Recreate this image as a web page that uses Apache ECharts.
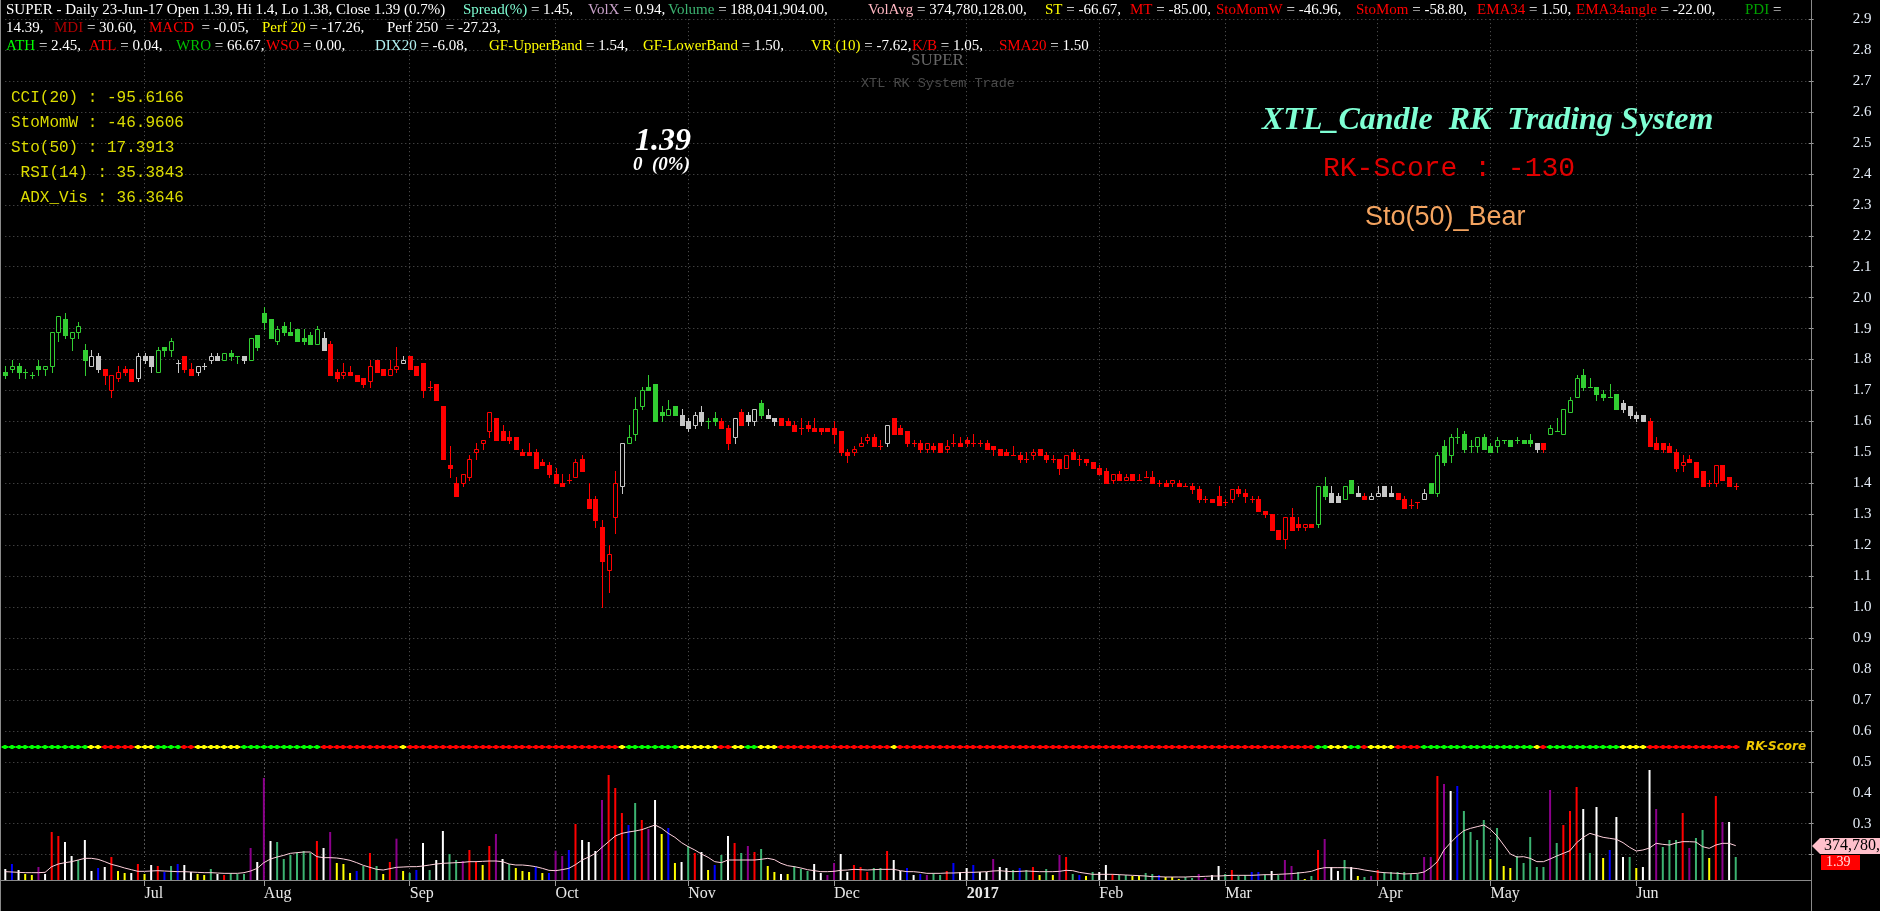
<!DOCTYPE html>
<html><head><meta charset="utf-8">
<script src="https://cdn.jsdelivr.net/npm/echarts@6/dist/echarts.min.js"></script>
<style>html,body{margin:0;padding:0;background:#000;overflow:hidden}#c{width:1880px;height:911px}</style>
</head><body><div id="c"></div>
<script>
// ---------------- DATA ----------------
const monthStarts = [21,39,61,83,103,125,145,165,184,207,224,246];
const monthLabels = ['Jul','Aug','Sep','Oct','Nov','Dec','2017','Feb','Mar','Apr','May','Jun'];
const priceTicks = {min:0.2, max:2.9, step:0.1};

const opens = [
1.76,1.77,1.78,1.76,1.75,1.78,1.77,1.78,1.89,1.93,
1.87,1.89,1.83,1.78,1.81,1.77,1.70,1.74,1.77,1.77,
1.74,1.81,1.81,1.76,1.84,1.83,1.79,1.81,1.77,1.76,
1.78,1.80,1.81,1.80,1.82,1.81,1.81,1.80,1.88,1.95,
1.93,1.86,1.91,1.89,1.90,1.87,1.88,1.85,1.87,1.85,
1.76,1.75,1.76,1.75,1.74,1.73,1.80,1.77,1.75,1.77,
1.79,1.81,1.78,1.79,1.71,1.72,1.65,1.46,1.40,1.40,
1.42,1.50,1.53,1.57,1.61,1.57,1.55,1.55,1.50,1.50,
1.50,1.47,1.46,1.43,1.40,1.41,1.42,1.48,1.35,1.35,
1.26,1.12,1.29,1.39,1.53,1.56,1.65,1.71,1.72,1.63,
1.62,1.65,1.62,1.60,1.59,1.63,1.60,1.61,1.60,1.58,
1.55,1.63,1.62,1.60,1.66,1.62,1.61,1.61,1.60,1.59,
1.58,1.59,1.58,1.58,1.58,1.58,1.57,1.50,1.50,1.52,
1.54,1.55,1.52,1.53,1.61,1.58,1.57,1.53,1.53,1.51,
1.52,1.53,1.51,1.53,1.53,1.54,1.53,1.53,1.53,1.52,
1.51,1.50,1.49,1.49,1.48,1.49,1.51,1.49,1.48,1.48,
1.45,1.50,1.48,1.48,1.47,1.45,1.44,1.41,1.43,1.41,
1.43,1.41,1.42,1.42,1.40,1.40,1.40,1.40,1.39,1.39,
1.38,1.35,1.35,1.36,1.34,1.35,1.38,1.37,1.35,1.35,
1.31,1.30,1.25,1.22,1.29,1.27,1.26,1.27,1.27,1.39,
1.37,1.36,1.35,1.41,1.37,1.36,1.35,1.36,1.39,1.37,
1.37,1.35,1.33,1.34,1.35,1.40,1.37,1.52,1.49,1.55,
1.56,1.52,1.52,1.55,1.52,1.52,1.54,1.54,1.54,1.54,
1.54,1.53,1.53,1.56,1.57,1.56,1.63,1.68,1.75,1.71,
1.71,1.69,1.68,1.69,1.66,1.65,1.62,1.62,1.60,1.53,
1.53,1.52,1.50,1.46,1.48,1.47,1.44,1.40,1.40,1.46,
1.42,1.39];
const highs = [
1.78,1.80,1.79,1.77,1.76,1.80,1.78,1.89,1.94,1.95,
1.89,1.92,1.85,1.83,1.82,1.77,1.75,1.78,1.78,1.77,
1.82,1.82,1.81,1.84,1.84,1.87,1.80,1.81,1.79,1.78,
1.79,1.82,1.82,1.82,1.83,1.81,1.81,1.87,1.88,1.97,
1.93,1.91,1.92,1.92,1.90,1.90,1.89,1.91,1.89,1.86,
1.77,1.79,1.78,1.75,1.74,1.80,1.80,1.77,1.80,1.84,
1.81,1.81,1.78,1.79,1.73,1.72,1.65,1.52,1.42,1.43,
1.49,1.53,1.54,1.63,1.61,1.59,1.57,1.55,1.51,1.53,
1.51,1.48,1.47,1.45,1.43,1.43,1.48,1.49,1.40,1.36,
1.28,1.20,1.44,1.53,1.59,1.68,1.71,1.75,1.72,1.65,
1.67,1.65,1.64,1.61,1.63,1.65,1.61,1.63,1.61,1.59,
1.61,1.64,1.63,1.64,1.67,1.64,1.61,1.61,1.61,1.60,
1.61,1.60,1.61,1.58,1.58,1.60,1.57,1.51,1.52,1.55,
1.56,1.56,1.54,1.59,1.61,1.59,1.57,1.54,1.54,1.53,
1.53,1.53,1.54,1.56,1.55,1.55,1.56,1.54,1.54,1.52,
1.51,1.51,1.52,1.50,1.50,1.51,1.51,1.50,1.49,1.48,
1.49,1.51,1.49,1.48,1.47,1.46,1.45,1.43,1.44,1.43,
1.43,1.43,1.44,1.44,1.41,1.41,1.41,1.41,1.40,1.40,
1.39,1.36,1.35,1.39,1.35,1.38,1.39,1.38,1.36,1.36,
1.31,1.30,1.25,1.29,1.32,1.29,1.27,1.27,1.39,1.42,
1.39,1.37,1.39,1.41,1.39,1.37,1.37,1.39,1.39,1.39,
1.37,1.36,1.35,1.34,1.38,1.40,1.50,1.54,1.56,1.58,
1.57,1.54,1.55,1.56,1.53,1.55,1.54,1.54,1.55,1.54,
1.56,1.53,1.53,1.59,1.61,1.64,1.68,1.75,1.77,1.74,
1.71,1.70,1.72,1.69,1.67,1.65,1.63,1.62,1.61,1.55,
1.53,1.53,1.51,1.49,1.49,1.47,1.44,1.41,1.46,1.46,
1.42,1.40];
const lows = [
1.74,1.76,1.74,1.74,1.74,1.75,1.75,1.76,1.86,1.87,
1.83,1.87,1.75,1.78,1.76,1.72,1.68,1.73,1.75,1.73,
1.73,1.79,1.76,1.76,1.81,1.81,1.76,1.76,1.75,1.75,
1.77,1.79,1.80,1.80,1.80,1.79,1.79,1.80,1.83,1.90,
1.87,1.85,1.88,1.88,1.86,1.85,1.85,1.85,1.83,1.75,
1.73,1.74,1.75,1.73,1.71,1.71,1.76,1.75,1.75,1.76,
1.79,1.77,1.75,1.68,1.70,1.67,1.48,1.42,1.36,1.39,
1.41,1.48,1.51,1.55,1.54,1.54,1.53,1.51,1.49,1.49,
1.45,1.46,1.42,1.40,1.39,1.40,1.42,1.44,1.32,1.26,
1.00,1.05,1.24,1.37,1.53,1.54,1.64,1.70,1.60,1.60,
1.62,1.62,1.59,1.57,1.58,1.59,1.58,1.59,1.58,1.51,
1.53,1.59,1.59,1.59,1.61,1.61,1.59,1.59,1.59,1.57,
1.56,1.57,1.57,1.56,1.57,1.53,1.49,1.47,1.49,1.52,
1.53,1.52,1.51,1.52,1.56,1.56,1.52,1.52,1.50,1.50,
1.50,1.50,1.50,1.52,1.52,1.52,1.52,1.52,1.51,1.49,
1.49,1.49,1.49,1.47,1.47,1.48,1.49,1.47,1.47,1.43,
1.45,1.48,1.46,1.46,1.45,1.43,1.40,1.40,1.41,1.41,
1.41,1.41,1.42,1.40,1.39,1.39,1.39,1.39,1.39,1.37,
1.34,1.34,1.34,1.33,1.33,1.34,1.36,1.34,1.34,1.31,
1.29,1.25,1.22,1.19,1.25,1.25,1.25,1.26,1.26,1.35,
1.34,1.34,1.35,1.37,1.36,1.35,1.35,1.36,1.36,1.36,
1.35,1.32,1.32,1.32,1.35,1.37,1.36,1.46,1.47,1.53,
1.50,1.50,1.50,1.51,1.50,1.50,1.53,1.52,1.53,1.53,
1.52,1.50,1.50,1.56,1.57,1.56,1.63,1.68,1.70,1.71,
1.67,1.67,1.68,1.64,1.63,1.61,1.60,1.60,1.52,1.51,
1.50,1.50,1.44,1.44,1.47,1.42,1.39,1.39,1.39,1.41,
1.39,1.38];
const closes = [
1.75,1.78,1.76,1.76,1.75,1.77,1.78,1.89,1.94,1.88,
1.89,1.91,1.80,1.81,1.77,1.75,1.75,1.76,1.76,1.73,
1.81,1.80,1.78,1.83,1.83,1.86,1.79,1.77,1.75,1.78,
1.78,1.81,1.80,1.82,1.81,1.81,1.80,1.87,1.84,1.92,
1.87,1.90,1.89,1.88,1.86,1.86,1.85,1.90,1.83,1.75,
1.74,1.76,1.75,1.73,1.72,1.78,1.76,1.75,1.77,1.78,
1.80,1.77,1.75,1.70,1.71,1.67,1.48,1.45,1.36,1.43,
1.48,1.51,1.54,1.63,1.54,1.54,1.54,1.51,1.49,1.49,
1.45,1.46,1.43,1.40,1.39,1.41,1.47,1.44,1.32,1.28,
1.15,1.17,1.40,1.53,1.55,1.64,1.70,1.70,1.60,1.62,
1.64,1.62,1.59,1.58,1.62,1.60,1.60,1.60,1.58,1.53,
1.61,1.59,1.60,1.64,1.62,1.61,1.60,1.59,1.59,1.57,
1.58,1.58,1.57,1.57,1.57,1.56,1.50,1.49,1.51,1.53,
1.55,1.52,1.52,1.59,1.56,1.56,1.53,1.53,1.51,1.53,
1.51,1.50,1.52,1.53,1.52,1.53,1.53,1.53,1.51,1.51,
1.49,1.49,1.49,1.48,1.48,1.50,1.49,1.48,1.48,1.45,
1.49,1.48,1.48,1.47,1.45,1.43,1.40,1.43,1.41,1.42,
1.41,1.41,1.42,1.40,1.40,1.39,1.41,1.39,1.39,1.38,
1.35,1.35,1.34,1.33,1.34,1.38,1.37,1.36,1.35,1.31,
1.30,1.25,1.22,1.29,1.25,1.26,1.27,1.26,1.39,1.36,
1.34,1.34,1.39,1.37,1.36,1.35,1.36,1.37,1.36,1.36,
1.35,1.32,1.33,1.34,1.37,1.37,1.49,1.47,1.55,1.55,
1.51,1.52,1.55,1.51,1.50,1.54,1.54,1.52,1.54,1.53,
1.53,1.51,1.51,1.58,1.57,1.64,1.67,1.74,1.71,1.71,
1.69,1.68,1.68,1.64,1.64,1.62,1.61,1.60,1.52,1.51,
1.51,1.50,1.45,1.47,1.47,1.42,1.39,1.40,1.46,1.41,
1.39,1.39];
// candle trend state: G = bull (green), R = bear (red), W = neutral (grey)
const candleState = [
'GGGGGGGGGG','GGGWWRRRRR','WWWGGGWRRW','WWWGGGWGGG','GGGGGGGGWR',
'RRRRRRRRRR','WRRRRRRRRR','RRRRRRRRRR','RRRRRRRRRR','RRRWGGGGGG',
'GGWWWWGGRR','WRWWGWWRRR','RRRRRRRRRR','RRRWRRRRRR','RRRRRRRRRR',
'RRRRRRRRRR','RRRRRRRRRR','RRRRRRRRRR','RRRRRRRRRR','RRRRRRRRGG',
'WWGGWRWWWW','RRRRWGGGGG','GGGGGGGGGG','GWRGGGGGGG','GGGGWWWWRR',
'RRRRRRRRRR','RR'].join('');
// RK-Score strip state: G / Y / R
const rkState = [
'GGGGGGGGGG','GGGYYRRRRR','YYYGGGGRRY','YYYYYYGGGG','GGGGGGGGRR',
'RRRRRRRRRR','YRRRRRRRRR','RRRRRRRRRR','RRRRRRRRRR','RRRYGGGGGG',
'GGYYYYYYRR','YYGGYYYRRR','RRRRRRRRRR','RRRRYRRRRR','RRRRRRRRRR',
'RRRRRRRRRR','RRRRRRRRRR','RRRRRRRRRR','RRRRRRRRRR','RRRRRRRRGG',
'YYYGGRYYYY','RRRRGGGGGG','GGGGGGGGGG','GYRGGGGGGG','GGGGYYYYRR',
'RRRRRRRRRR','RR'].join('');
// volume, millions of shares
const volumes = [
99,144,90,54,45,117,54,432,396,342,
216,180,360,81,108,117,207,81,63,63,
144,54,135,126,72,126,144,135,72,54,
45,99,54,45,63,54,54,288,162,918,
351,342,189,225,243,261,243,351,288,432,
153,144,63,81,126,243,126,54,162,372,
81,63,90,333,90,180,441,234,180,171,
270,162,135,306,414,189,144,108,81,72,
117,63,63,264,216,270,504,360,342,261,
720,945,828,603,495,693,540,459,720,414,
468,153,162,306,243,252,90,135,225,396,
333,243,306,252,279,126,72,54,54,126,
99,81,144,63,45,153,234,72,135,117,
72,108,108,261,180,81,108,45,54,45,
63,45,81,153,72,108,135,72,72,189,
117,108,90,108,90,117,45,99,45,225,
207,54,45,36,72,72,135,54,45,45,
36,36,63,54,45,27,27,9,27,18,
54,18,45,126,54,90,36,45,72,72,
45,81,45,180,126,72,9,36,270,369,
117,81,180,117,36,27,36,90,72,72,
72,72,54,54,207,207,936,864,801,846,
621,432,360,540,189,468,126,108,216,153,
387,117,117,810,333,495,621,837,639,243,
657,198,270,567,207,207,108,117,990,639,
297,360,360,603,288,378,450,198,756,522,
522,207];
const volumeClass = [
'WBWYYPWRRW','WGWWBWRYYW','RYWRBGBWWY','YGWRGGGPWP','WGGGGGGRWP',
'YYYBGRGYRP','YGBWGWWGGP','RRYRPWGYYY','BYBPPBRWWW','PRRRBGRPWY',
'BYWGRWYBGW','RGPRGYYWYG','GGWWPPWWRR','RGGRWWBWBP','GGRBWWBWWP',
'WWGBGRYGYP','RGBYGWWRGG','YYGGBYYYGG','PPWWGRGGBB','GWGPPGYGRP',
'WWGWYGPRGG','GGGGPPRPWB','GGGGYGYYGG','GGGPGRRRWG','WYBWWGYWWP',
'GGGRPGGYRP','WG'].join('');
const volumeAvg = [
75,72,69,66,66,66,69,120,144,156,
165,180,195,195,186,165,141,126,108,93,
78,78,81,84,81,78,75,75,72,69,
66,66,63,60,60,60,66,81,105,156,
189,207,222,240,246,252,252,210,201,201,
198,189,177,156,132,114,96,90,102,114,
117,120,120,126,135,144,150,153,156,159,
165,165,168,171,171,165,144,135,135,129,
120,105,87,84,93,105,138,180,207,240,
294,345,396,420,432,441,453,474,495,465,
420,384,336,300,270,234,204,165,156,180,
180,180,180,180,186,195,183,150,129,120,
108,93,84,75,75,78,87,90,96,93,
90,93,96,96,96,84,75,75,69,60,
60,60,63,63,66,69,69,72,75,81,
84,78,75,78,81,78,75,75,75,78,
87,84,69,60,51,51,51,51,48,45,
42,39,36,30,30,27,27,27,27,30,
30,33,36,36,39,42,42,42,42,45,
48,48,51,54,57,63,69,78,99,111,
111,111,111,108,102,90,81,72,66,63,
60,54,57,60,72,111,165,270,336,396,
444,465,480,495,456,396,315,234,207,210,
195,165,165,189,216,240,264,336,384,420,
402,384,375,366,336,294,261,270,288,330,
321,315,333,345,345,342,300,285,315,330,
330,309];

const headerRows = [
 [[6,  [['SUPER - Daily 23-Jun-17 Open 1.39, Hi 1.4, Lo 1.38, Close 1.39 (0.7%)','w']]],
  [463,[['Spread(%)','aq'],[' = 1.45,','w']]],
  [588,[['VolX','li'],[' = 0.94,','w']]],
  [668,[['Volume','sg'],[' = 188,041,904.00,','w']]],
  [868,[['VolAvg','pk'],[' = 374,780,128.00,','w']]],
  [1045,[['ST','y'],[' = -66.67,','w']]],
  [1130,[['MT','r'],[' = -85.00,','w']]],
  [1216,[['StoMomW','r'],[' = -46.96,','w']]],
  [1356,[['StoMom','r'],[' = -58.80,','w']]],
  [1477,[['EMA34','r'],[' = 1.50,','w']]],
  [1576,[['EMA34angle','r'],[' = -22.00,','w']]],
  [1745,[['PDI','dg'],[' =','w']]]],
 [[6,  [['14.39,','w']]],
  [54, [['MDI','dr'],[' = 30.60,','w']]],
  [149,[['MACD','r'],['  = -0.05,','w']]],
  [262,[['Perf 20','y'],[' = -17.26,','w']]],
  [387,[['Perf 250  = -27.23,','w']]]],
 [[6,  [['ATH','lg'],[' = 2.45,','w']]],
  [89, [['ATL','r'],[' = 0.04,','w']]],
  [176,[['WRO','g2'],[' = 66.67,','w']]],
  [266,[['WSO','r'],[' = 0.00,','w']]],
  [375,[['DIX20','cy'],[' = -6.08,','w']]],
  [489,[['GF-UpperBand','y'],[' = 1.54,','w']]],
  [643,[['GF-LowerBand','y'],[' = 1.50,','w']]],
  [811,[['VR (10)','y'],[' = -7.62,','w']]],
  [912,[['K/B','r'],[' = 1.05,','w']]],
  [999,[['SMA20','r'],[' = 1.50','w']]]]
];
const indicatorLines = ['CCI(20) : -95.6166','StoMomW : -46.9606','Sto(50) : 17.3913',' RSI(14) : 35.3843',' ADX_Vis : 36.3646'];

// ---------------- CHART ----------------
const N_SLOTS = 273;
const cats = Array.from({length:N_SLOTS}, (_, i) => String(i));
const GL = 5.3, SLOT = 6.63, GW = SLOT * (N_SLOTS - 1);
const COL = {G:'#32cd32', R:'#ff0000', W:'#c8c8c8'};
const RKCOL = {G:'#00ff00', Y:'#ffff00', R:'#ff0000'};
const VCOL = {W:'#ffffff', R:'#ff0000', G:'#3cb371', B:'#0000ff', P:'#8b008b', Y:'#ffff00'};
const TXT = {w:'#ffffff', aq:'#7fffd4', li:'#c8a0c8', sg:'#3cb371', pk:'#ffb6c1', y:'#ffff00', r:'#ff0000',
  dg:'#00a000', dr:'#b00000', lg:'#00ff00', g2:'#00c000', cy:'#b0f0f0'};
const isMonth = (idx) => monthStarts.indexOf(idx) >= 0;
const stateNum = {G:1, R:-1, W:0};

const candleData = opens.map((o, i) => [i, o, closes[i], lows[i], highs[i], stateNum[candleState[i]]]);
const volData = volumes.map((v, i) => ({value: v, itemStyle: {color: VCOL[volumeClass[i]]}}));
const rkData = rkState.split('').map((s, i) => [i, 0.5, s === 'G' ? 1 : (s === 'Y' ? 0 : -1)]);

function renderCandle(params, api) {
  const i = api.value(0), o = api.value(1), c = api.value(2), l = api.value(3), h = api.value(4), s = api.value(5);
  const color = s === 1 ? COL.G : (s === -1 ? COL.R : COL.W);
  const pO = api.coord([i, o]), pC = api.coord([i, c]), pL = api.coord([i, l]), pH = api.coord([i, h]);
  const xc = Math.round(pO[0]);
  const top = Math.round(Math.min(pO[1], pC[1])), bot = Math.round(Math.max(pO[1], pC[1]));
  const ch = [];
  ch.push({type:'line', shape:{x1:xc + 0.5, y1:Math.round(pH[1]), x2:xc + 0.5, y2:Math.round(pL[1]) + 1}, style:{stroke:color, lineWidth:1}});
  if (c > o) {
    ch.push({type:'rect', shape:{x:xc - 1.5, y:top + 0.5, width:4, height:Math.max(1, bot - top)}, style:{fill:'#000', stroke:color, lineWidth:1}});
  } else if (c < o) {
    ch.push({type:'rect', shape:{x:xc - 2, y:top, width:5, height:Math.max(1, bot - top + 1)}, style:{fill:color}});
  } else {
    ch.push({type:'line', shape:{x1:xc - 2, y1:top + 0.5, x2:xc + 3, y2:top + 0.5}, style:{stroke:color, lineWidth:1}});
  }
  return {type:'group', children:ch};
}
function renderRK(params, api) {
  const i = api.value(0), s = api.value(2);
  const color = s === 1 ? RKCOL.G : (s === 0 ? RKCOL.Y : RKCOL.R);
  const p = api.coord([i, 0.5]);
  const xc = Math.round(p[0]), yc = Math.round(p[1]);
  return {type:'group', children:[
    {type:'rect', shape:{x:xc - 3.4, y:yc - 1, width:SLOT + 0.2, height:2}, style:{fill:color}},
    {type:'rect', shape:{x:xc - 1.5, y:yc - 2, width:3, height:4}, style:{fill:color}}
  ]};
}

const dotted = {type:[1,3], color:'#5a5a5a', width:1};
const option = {
  backgroundColor:'#000000',
  animation:false,
  grid:[
    {left:GL, width:GW, top:19.2, height:835.4},
    {left:GL, width:GW, top:760, height:120},
    {left:GL, width:GW, top:741, height:12}
  ],
  xAxis:[
    {gridIndex:0, type:'category', data:cats, boundaryGap:false, axisLine:{show:false}, axisTick:{show:false}, axisLabel:{show:false},
     splitLine:{show:true, interval:isMonth, lineStyle:dotted}},
    {gridIndex:1, type:'category', data:cats, boundaryGap:false, axisLine:{show:false},
     axisTick:{show:true, interval:isMonth, length:6, lineStyle:{color:'#9a9a9a'}},
     axisLabel:{show:true, interval:isMonth, align:'left', margin:6, color:'#e8e8e8', fontFamily:'Liberation Serif', fontSize:16,
       formatter:(v) => { const k = monthStarts.indexOf(+v); if (k < 0) return ''; const t = monthLabels[k]; return /^\d+$/.test(t) ? '{b|' + t + '}' : t; },
       rich:{b:{fontWeight:'bold', fontFamily:'Liberation Serif', fontSize:16, color:'#e8e8e8'}}},
     splitLine:{show:true, interval:isMonth, lineStyle:dotted}},
    {gridIndex:2, type:'category', data:cats, boundaryGap:false, show:false}
  ],
  yAxis:[
    {gridIndex:0, type:'value', position:'right', min:priceTicks.min, max:priceTicks.max, interval:priceTicks.step,
     axisLine:{show:false}, axisTick:{show:true, length:5, lineStyle:{color:'#9a9a9a'}},
     axisLabel:{margin:44, color:'#e6eef8', fontFamily:'Liberation Serif', fontSize:15,
       formatter:(v) => v < 0.25 ? '' : v.toFixed(1)},
     splitLine:{show:true, lineStyle:dotted}},
    {gridIndex:1, type:'value', min:0, max:1080, show:false},
    {gridIndex:2, type:'value', min:0, max:1, show:false}
  ],
  series:[
    {type:'bar', name:'Volume', xAxisIndex:1, yAxisIndex:1, barWidth:2, data:volData, z:2},
    {type:'line', name:'VolAvg', xAxisIndex:1, yAxisIndex:1, data:volumeAvg, showSymbol:false, symbol:'none',
     lineStyle:{color:'#ffd0dc', width:1}, z:3},
    {type:'custom', name:'RK', xAxisIndex:2, yAxisIndex:2, data:rkData, renderItem:renderRK, encode:{x:0, y:1}, z:4},
    {type:'custom', name:'Price', xAxisIndex:0, yAxisIndex:0, data:candleData, renderItem:renderCandle,
     encode:{x:0, y:[1,2,3,4]}, z:5}
  ]
};

// overlay texts
const g = [];
headerRows.forEach((row, r) => {
  const y = [11, 29, 47][r];
  row.forEach(([x, parts]) => {
    const rich = {};
    let txt = '';
    parts.forEach(([t, c], k) => { rich['s' + k] = {fill:TXT[c], fontFamily:'Liberation Serif', fontSize:15}; txt += '{s' + k + '|' + t + '}'; });
    g.push({type:'text', left:x, top:y - 8, z:100, style:{text:txt, rich:rich, font:'15px "Liberation Serif"', fill:'#fff'}});
  });
});
indicatorLines.forEach((t, k) => {
  g.push({type:'text', left:11, top:99 + k * 25 - 9, z:100, style:{text:t, fill:'#dcdc00', font:'16px "Liberation Mono"'}});
});
g.push({type:'text', left:911, top:52, z:100, style:{text:'SUPER', fill:'#666666', font:'17px "Liberation Serif"'}});
g.push({type:'text', left:861, top:76, z:100, style:{text:'XTL RK System Trade', fill:'#4a4a4a', font:'13.5px "Liberation Mono"'}});
g.push({type:'text', left:635, top:126, z:100, style:{text:'1.39', fill:'#ffffff', font:'italic bold 32px "Liberation Serif"'}});
g.push({type:'text', left:633, top:156, z:100, style:{text:'0  (0%)', fill:'#ffffff', font:'italic bold 19px "Liberation Serif"'}});
g.push({type:'text', left:1262, top:105, z:100, style:{text:'XTL_Candle  RK  Trading System', fill:'#7fffd4', font:'italic bold 32px "Liberation Serif"'}});
g.push({type:'text', left:1323, top:155, z:100, style:{text:'RK-Score : -130', fill:'#e00000', font:'28px "Liberation Mono"'}});
g.push({type:'text', left:1365, top:204, z:100, style:{text:'Sto(50)_Bear', fill:'#f4a460', font:'27px "Liberation Sans"'}});
g.push({type:'text', left:1746, top:741, z:100, style:{text:'RK-Score', fill:'#f0c800', font:'italic bold 12px "DejaVu Sans"'}});
// frame
g.push({type:'line', z:90, shape:{x1:1811.5, y1:0, x2:1811.5, y2:911}, style:{stroke:'#8a8a8a', lineWidth:1}});
g.push({type:'line', z:90, shape:{x1:0.5, y1:0, x2:0.5, y2:911}, style:{stroke:'#8a8a8a', lineWidth:1}});
g.push({type:'line', z:90, shape:{x1:0, y1:880.5, x2:1811, y2:880.5}, style:{stroke:'#8a8a8a', lineWidth:1}});
option.graphic = g;

const chart = echarts.init(document.getElementById('c'), null, {renderer:'canvas', width:1880, height:911});
chart.setOption(option);

// last-value tags on the right scale
const last = volumeAvg.length - 1;
const pAvg = chart.convertToPixel({xAxisIndex:1, yAxisIndex:1}, [last, volumeAvg[last]]);
const yc = Math.round(pAvg[1]);
const tags = [
  {type:'polygon', z:110, shape:{points:[[1812, yc], [1820, yc - 8], [1880, yc - 8], [1880, yc + 8], [1820, yc + 8]]}, style:{fill:'#ffc0cb'}},
  {type:'text', z:111, left:1824, top:yc - 8, style:{text:'374,780,128', fill:'#000', font:'16px "Liberation Serif"'}},
  {type:'rect', z:110, shape:{x:1821, y:yc + 9, width:39, height:15}, style:{fill:'#ff0000'}},
  {type:'text', z:111, left:1826, top:yc + 9, style:{text:String(closes[last].toFixed(2)), fill:'#ffe0e0', font:'14px "Liberation Serif"'}}
];
chart.setOption({graphic: g.concat(tags)});
</script></body></html>
